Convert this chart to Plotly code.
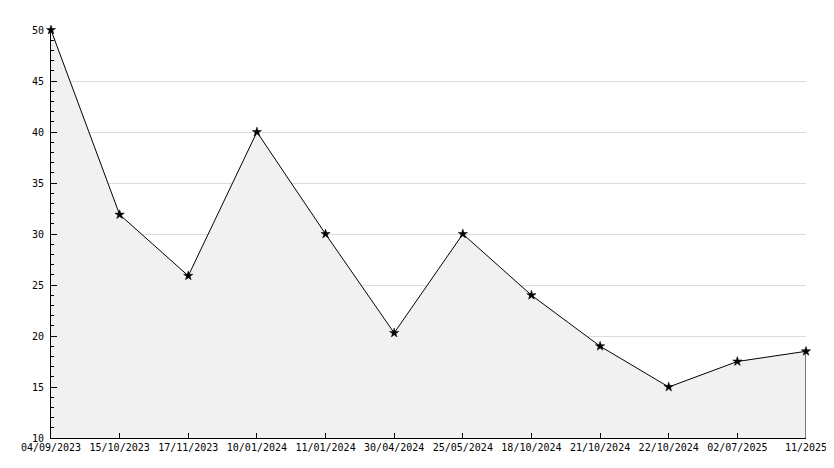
import plotly.graph_objects as go

dates = ["04/09/2023", "15/10/2023", "17/11/2023", "10/01/2024", "11/01/2024",
         "30/04/2024", "25/05/2024", "18/10/2024", "21/10/2024", "22/10/2024",
         "02/07/2025", "11/2025"]
values = [50, 31.9, 25.9, 40, 30, 20.3, 30, 24, 19, 15, 17.5, 18.5]
y_min, y_max = 10, 50
y_ticks = [10, 15, 20, 25, 30, 35, 40, 45, 50]

fig = go.Figure()
fig.add_trace(go.Scatter(
    x=dates, y=values, mode="lines+markers",
    fill="tozeroy", fillcolor="#f1f1f1",
    line=dict(color="black", width=1),
    marker=dict(symbol="star", size=7, color="black", line=dict(width=0.5, color="black")),
    hoverinfo="x+y", showlegend=False, cliponaxis=False,
))
# right edge of the filled area
fig.add_trace(go.Scatter(
    x=[dates[-1], dates[-1]], y=[y_min, values[-1]], mode="lines",
    line=dict(color="black", width=1), hoverinfo="skip", showlegend=False,
))

font = dict(family="DejaVu Sans Mono", size=10, color="black")
fig.update_layout(
    width=826, height=460,
    margin=dict(l=43, r=28, t=22, b=30),
    plot_bgcolor="white", paper_bgcolor="white",
    font=font,
    xaxis=dict(
        type="category", range=[0, len(dates) - 1],
        showgrid=False, showline=True, linecolor="black", linewidth=1,
        ticks="inside", ticklen=5, tickcolor="black", tickangle=0,
        tickfont=font, zeroline=False, automargin=False,
    ),
    yaxis=dict(
        range=[y_min, y_max], tickvals=y_ticks,
        showgrid=True, gridcolor="#dcdcdc", gridwidth=1,
        showline=True, linecolor="black", linewidth=1,
        ticks="inside", ticklen=6, tickcolor="black",
        minor=dict(dtick=1, ticks="inside", ticklen=3, tickcolor="black", showgrid=False),
        tickfont=font, zeroline=False, ticklabelstandoff=4, automargin=False,
    ),
)
fig.write_html("out.html")
